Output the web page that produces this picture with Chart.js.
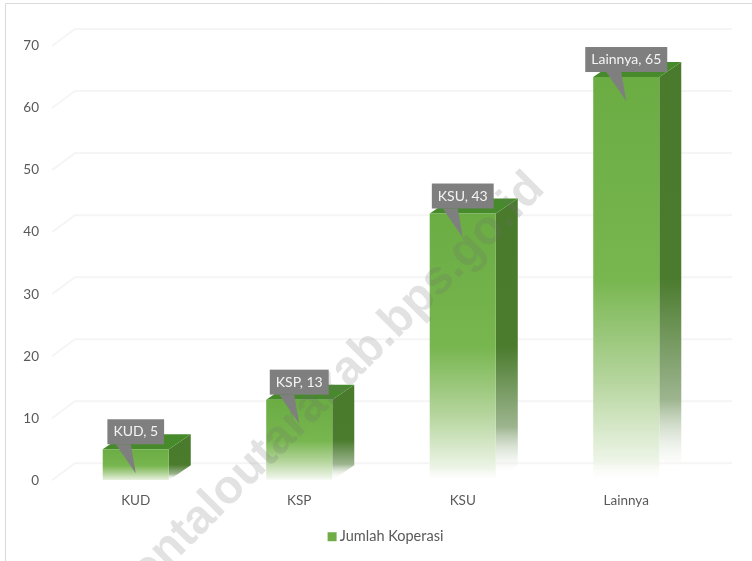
<!DOCTYPE html>
<html>
<head>
<meta charset="utf-8">
<title>Jumlah Koperasi</title>
<script src="https://cdn.jsdelivr.net/npm/chart.js@4/dist/chart.umd.min.js"></script>
<style>
html, body { margin: 0; padding: 0; background: #fff; }
#wrap { width: 752px; height: 561px; position: relative; }
</style>
</head>
<body>
<div id="wrap"><canvas id="c" width="752" height="561"></canvas></div>
<script>
const categories = ['KUD', 'KSP', 'KSU', 'Lainnya'];
const values = [5, 13, 43, 65];
const seriesName = 'Jumlah Koperasi';
const watermark = 'gorontaloutarakab.bps.go.id';

const FONT = 'Lato, "Open Sans", sans-serif';
const DEPTH_X = 22, DEPTH_Y = 15;   // oblique offset of the fake 3d bars
const GRID_X = 24, GRID_Y = 17;

function fade(ctx, top, bottom, colors) {
    var g = ctx.createLinearGradient(0, top, 0, bottom);
    colors.forEach(function (c) { g.addColorStop(c[0], c[1]); });
    return g;
}

// front face, light green going to white in the lower half
function frontFill(context) {
    var chart = context.chart;
    if (!chart.chartArea || context.dataIndex === undefined) return '#70ad47';
    var y = chart.scales.y;
    var top = y.getPixelForValue(values[context.dataIndex]);
    return fade(chart.ctx, top, y.getPixelForValue(0) + 2, [
        [0, '#6bac43'], [0.5, '#78b650'], [0.75, '#b5d59d'], [0.95, '#eef5e8'], [1, 'rgba(255,255,255,0)']
    ]);
}

const backGrid = {
    id: 'backGrid',
    beforeDatasetsDraw: function (chart) {
        var ctx = chart.ctx, s = chart.scales.y, a = chart.chartArea;
        ctx.save();
        ctx.strokeStyle = '#f5f5f5';
        ctx.lineWidth = 2;
        s.ticks.forEach(function (t) {
            var y = s.getPixelForValue(t.value);
            ctx.beginPath();
            ctx.moveTo(a.left - 2, y);
            ctx.lineTo(a.left + 21, y - GRID_Y);
            ctx.lineTo(a.right + GRID_X, y - GRID_Y);
            ctx.stroke();
        });
        ctx.restore();
    }
};

// side and top faces sit behind the real bars
const barFaces = {
    id: 'barFaces',
    beforeDatasetsDraw: function (chart) {
        var ctx = chart.ctx, s = chart.scales.y;
        var base = s.getPixelForValue(0);
        chart.getDatasetMeta(0).data.forEach(function (bar) {
            var w = bar.width, l = bar.x - w / 2, r = bar.x + w / 2, top = bar.y;
            ctx.save();
            ctx.fillStyle = fade(ctx, top, base, [
                [0, '#4a7b2c'], [0.5, '#4b7c2e'], [0.8, '#9db58f'], [0.97, 'rgba(255,255,255,0.3)'], [1, 'rgba(255,255,255,0)']
            ]);
            ctx.beginPath();
            ctx.moveTo(r, top);
            ctx.lineTo(r + DEPTH_X, top - DEPTH_Y);
            ctx.lineTo(r + DEPTH_X, base - DEPTH_Y);
            ctx.lineTo(r, base);
            ctx.closePath();
            ctx.fill();
            ctx.fillStyle = '#468a2b';
            ctx.beginPath();
            ctx.moveTo(l, top);
            ctx.lineTo(l + DEPTH_X, top - DEPTH_Y);
            ctx.lineTo(r + DEPTH_X, top - DEPTH_Y);
            ctx.lineTo(r, top);
            ctx.closePath();
            ctx.fill();
            ctx.restore();
        });
    }
};

const waterMark = {
    id: 'waterMark',
    afterDatasetsDraw: function (chart) {
        var ctx = chart.ctx;
        ctx.save();
        ctx.translate(537, 181);
        ctx.rotate(-45 * Math.PI / 180);
        ctx.font = 'bold 47.5px "Liberation Sans", sans-serif';
        ctx.textAlign = 'right';
        ctx.textBaseline = 'middle';
        ctx.fillStyle = 'rgba(110,110,110,0.2)';
        ctx.fillText(watermark, 0, 0);
        ctx.restore();
    }
};

const callouts = {
    id: 'callouts',
    afterDatasetsDraw: function (chart) {
        var ctx = chart.ctx;
        chart.getDatasetMeta(0).data.forEach(function (bar, i) {
            var text = categories[i] + ', ' + values[i];
            ctx.save();
            ctx.font = '14px ' + FONT;
            var w = ctx.measureText(text).width + 12;
            var cx = bar.x, bottom = bar.y - 5, h = 25;
            ctx.fillStyle = '#7f7f7f';
            ctx.fillRect(cx - w / 2, bottom - h, w, h);
            ctx.beginPath();
            ctx.moveTo(cx - 20, bottom);
            ctx.lineTo(cx - 5, bottom);
            ctx.lineTo(cx, bar.y + 24);
            ctx.closePath();
            ctx.fill();
            ctx.fillStyle = '#f4f4f4';
            ctx.textAlign = 'center';
            ctx.textBaseline = 'middle';
            ctx.fillText(text, cx, bottom - h / 2);
            ctx.restore();
        });
    }
};

const frame = {
    id: 'frame',
    beforeDraw: function (chart) {
        var ctx = chart.ctx;
        ctx.save();
        ctx.strokeStyle = '#d9d9d9';
        ctx.lineWidth = 1;
        ctx.beginPath();
        ctx.moveTo(5.5, 561);
        ctx.lineTo(5.5, 3.5);
        ctx.lineTo(752, 3.5);
        ctx.stroke();
        ctx.restore();
    }
};

// the legend is centred on the whole picture, not on the plot, and its swatch sits close to the text
const legendTweak = {
    id: 'legendTweak',
    afterLayout: function (chart) {
        chart.legend.left += 33;
        chart.legend.right += 33;
        chart.legend.legendHitBoxes.forEach(function (b) { b.left += 33; });
    },
    afterDraw: function (chart) {
        var ctx = chart.ctx, b = chart.legend.legendHitBoxes[0];
        ctx.save();
        ctx.fillStyle = '#70ad47';
        ctx.fillRect(b.left - 3, b.top + b.height / 2 - 4.5, 9, 9);
        ctx.restore();
    }
};

new Chart(document.getElementById('c'), {
    type: 'bar',
    data: {
        labels: categories,
        datasets: [{
            label: seriesName,
            data: values,
            backgroundColor: frontFill,
            borderWidth: 0,
            categoryPercentage: 1,
            barPercentage: 0.404
        }]
    },
    plugins: [frame, backGrid, barFaces, waterMark, callouts, legendTweak],
    options: {
        responsive: false,
        animation: false,
        layout: { padding: { top: 46, right: 44, bottom: 7, left: 0 } },
        plugins: {
            tooltip: { enabled: false },
            legend: {
                position: 'bottom',
                labels: {
                    boxWidth: 2,
                    boxHeight: 9,
                    padding: 8,
                    color: '#595959',
                    font: { family: FONT, size: 14.5 },
                    generateLabels: function () {
                        return [{ text: seriesName, fillStyle: 'rgba(0,0,0,0)', strokeStyle: 'rgba(0,0,0,0)', lineWidth: 0, fontColor: '#595959' }];
                    }
                }
            }
        },
        scales: {
            x: {
                grid: { display: false },
                border: { display: false },
                afterFit: function (scale) { scale.height += 9; },
                ticks: { color: '#595959', padding: 4, font: { family: FONT, size: 13.5 } }
            },
            y: {
                min: 0,
                max: 70,
                grid: { display: false },
                border: { display: false },
                afterFit: function (scale) { scale.width = 54; },
                ticks: { stepSize: 10, color: '#595959', padding: 7, font: { family: FONT, size: 13.5 } }
            }
        }
    }
});
</script>
</body>
</html>
